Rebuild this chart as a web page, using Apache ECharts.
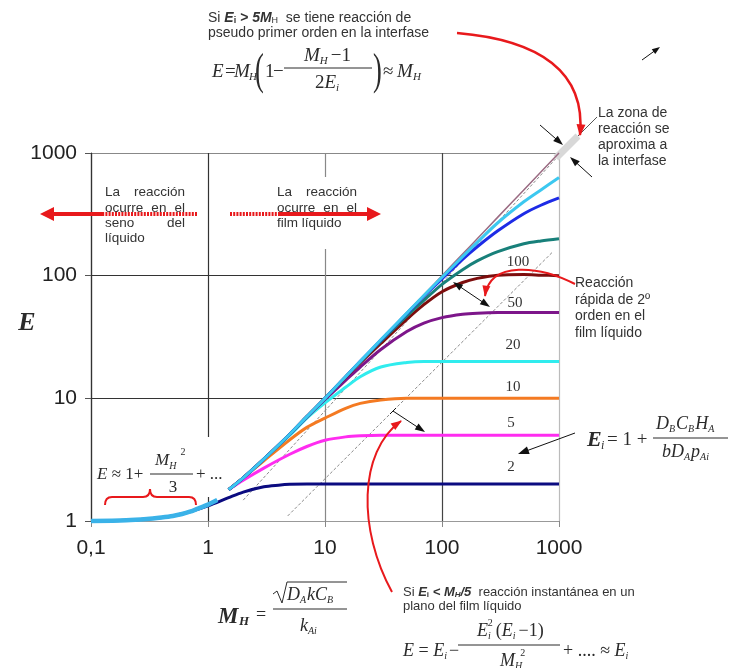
<!DOCTYPE html>
<html>
<head>
<meta charset="utf-8">
<script src="https://cdn.jsdelivr.net/npm/echarts@6/dist/echarts.min.js"></script>
<style>
  html, body { margin: 0; padding: 0; background: #ffffff; }
  #chart { width: 729px; height: 668px; }
</style>
</head>
<body>
<div id="chart"></div>
<script>
// Enhancement factor E versus Hatta number M_H for several values of E_i (log–log)

// Tick labels
const xTickValues = [0.1, 1, 10, 100, 1000];
const xTickLabels = ['0,1', '1', '10', '100', '1000'];
const yTickValues = [1, 10, 100, 1000];
const yTickLabels = ['1', '10', '100', '1000'];

// Slow-reaction branch, E ≈ 1 + M_H²/3
const haSlow = [0.1, 0.2, 0.3, 0.4, 0.5, 0.6, 0.7, 0.8, 1.0, 1.2];
const eSlow  = [1.0, 1.015, 1.04, 1.07, 1.1, 1.14, 1.19, 1.25, 1.36, 1.48];

// E_i = 2
const haEi2 = [0.1, 0.2, 0.3, 0.5, 0.7, 1, 1.5, 2, 3, 4, 5, 7, 10, 100, 1000];
const eEi2  = [1.0, 1.015, 1.04, 1.1, 1.19, 1.33, 1.55, 1.72, 1.9, 1.96, 1.99, 2, 2, 2, 2];

// Fast-reaction branch: common M_H grid
const haFast = [1.5, 2, 3, 5, 7, 10, 15, 20, 30, 50, 70, 100, 150, 200, 300, 500, 700, 1000];
const eEi5    = [1.8, 2.15, 2.7, 3.5, 4.05, 4.55, 4.85, 4.95, 5, 5, 5, 5, 5, 5, 5, 5, 5, 5];
const eEi10   = [1.8, 2.25, 3.1, 4.6, 5.8, 6.9, 8.3, 9.1, 9.7, 10, 10, 10, 10, 10, 10, 10, 10, 10];
const eEi20   = [1.8, 2.25, 3.2, 5.0, 6.9, 9.2, 12.3, 15, 18, 19.6, 20, 20, 20, 20, 20, 20, 20, 20];
const eEi50   = [1.8, 2.25, 3.2, 5.1, 7.05, 9.8, 14, 18, 25, 35, 41, 45.5, 48.5, 49.5, 50, 50, 50, 50];
const eEi100  = [1.8, 2.25, 3.2, 5.1, 7.1, 10, 14.8, 19.4, 28, 44, 58, 74, 88, 95, 101, 102, 101, 100];
const eEi200  = [1.8, 2.25, 3.2, 5.1, 7.1, 10, 15, 19.8, 29.2, 47, 63, 85, 112, 132, 157, 182, 192, 200];
const eEi500  = [1.8, 2.25, 3.2, 5.1, 7.1, 10, 15, 20, 29.8, 49, 68, 94, 136, 172, 232, 320, 375, 430];
const eEi1000 = [1.8, 2.25, 3.2, 5.1, 7.1, 10, 15, 20, 30, 49.5, 69, 97, 143, 187, 270, 400, 500, 630];
const eHatta  = [1.8, 2.25, 3.2, 5.1, 7.1, 10, 15, 20, 30, 50, 70, 100, 150, 200, 300, 500, 700, 1000];

// Guide lines (dotted)
const haGuideFifth = [4.8, 870];
const eGuideFifth  = [1.1, 154];
const haGuideNear  = [2, 1000];
const eGuideNear   = [1.48, 960];

// Plateau labels
const eiLabels = ['100', '50', '20', '10', '5', '2'];

const INK = '#2b2b2b';
const RED = '#e8191c';
const SANS = '"Liberation Sans", Arial, sans-serif';
const SERIF = '"Liberation Serif", "Times New Roman", serif';

const pairs = (xs, ys) => xs.map((x, i) => [x, ys[i]]);

const mctx = document.createElement('canvas').getContext('2d');
function fnt(size, style, weight, fam) {
  return (style || 'normal') + ' ' + (weight || 'normal') + ' ' + size + 'px ' + fam;
}
function measure(t, size, style, weight, fam) {
  mctx.font = fnt(size, style, weight, fam);
  return mctx.measureText(t).width;
}
function T(x, y, text, o) {
  o = o || {};
  const font = fnt(o.size || 14, o.style, o.weight, o.fam || SANS);
  const el = {
    type: 'text', x: x, y: y, z: o.z || 50,
    style: {
      text: text, font: font, fill: o.color || INK,
      align: o.align || 'left', verticalAlign: 'middle',
      textAlign: o.align || 'left', textVerticalAlign: 'middle'
    }
  };
  if (o.scaleX) el.scaleX = o.scaleX;
  return el;
}
// Lay a row of text runs left to right
function row(x, y, runs, base) {
  base = base || {};
  const els = [];
  let cx = x;
  runs.forEach(r => {
    if (r.skip !== undefined && r.t === undefined) { cx += r.skip; return; }
    const size = r.size || base.size || 14;
    const fam = r.fam || base.fam || SANS;
    const style = r.style || base.style;
    const weight = r.weight || base.weight;
    els.push(T(cx, y + (r.dy || 0), r.t, { size, fam, style, weight, color: r.color || base.color }));
    cx += measure(r.t, size, style, weight, fam) + (r.gap || 0);
  });
  return els;
}
function justify(xl, xr, y, words, o) {
  const els = [];
  const n = words.length;
  if (n === 1) return [T(xl, y, words[0], o)];
  const widths = words.map(w => measure(w, o.size, o.style, o.weight, o.fam || SANS));
  const total = widths.reduce((a, b) => a + b, 0);
  const gap = (xr - xl - total) / (n - 1);
  let cx = xl;
  words.forEach((w, i) => { els.push(T(cx, y, w, o)); cx += widths[i] + gap; });
  return els;
}
function line(x1, y1, x2, y2, color, width, dash, z) {
  return { type: 'line', z: z || 60, shape: { x1, y1, x2, y2 },
    style: { stroke: color, lineWidth: width, lineDash: dash || null } };
}
function head(x2, y2, dx, dy, len, w, color) {
  const L = Math.hypot(dx, dy), ux = dx / L, uy = dy / L;
  const bx = x2 - ux * len, by = y2 - uy * len;
  return { type: 'polygon', z: 61,
    shape: { points: [[x2, y2], [bx - uy * w / 2, by + ux * w / 2], [bx + uy * w / 2, by - ux * w / 2]] },
    style: { fill: color } };
}
function arrow(x1, y1, x2, y2, o) {
  const dx = x2 - x1, dy = y2 - y1, L = Math.hypot(dx, dy);
  const len = o.len || 9, w = o.w || 7;
  const ex = x2 - dx / L * len * 0.7, ey = y2 - dy / L * len * 0.7;
  let sx = x1, sy = y1;
  const els = [];
  if (o.both) {
    sx = x1 + dx / L * len * 0.7; sy = y1 + dy / L * len * 0.7;
    els.push(head(x1, y1, -dx, -dy, len, w, o.color));
  }
  els.push(line(sx, sy, ex, ey, o.color, o.width || 1, o.dash));
  els.push(head(x2, y2, dx, dy, len, w, o.color));
  return els;
}
function bez(p0, c1, c2, p3, color, width) {
  const shape = { x1: p0[0], y1: p0[1], cpx1: c1[0], cpy1: c1[1], x2: p3[0], y2: p3[1] };
  if (c2) { shape.cpx2 = c2[0]; shape.cpy2 = c2[1]; }
  return { type: 'bezierCurve', z: 60, shape: shape, style: { stroke: color, lineWidth: width, fill: null } };
}
function curveArrow(p0, c1, c2, p3, o) {
  return [
    bez(p0, c1, c2, p3, o.color, o.width || 2),
    head(p3[0] + (p3[0] - c2[0]) * 0.02, p3[1] + (p3[1] - c2[1]) * 0.02, p3[0] - c2[0], p3[1] - c2[1], o.len || 10, o.w || 8, o.color)
  ];
}
function fracBar(x1, x2, y, w) {
  return line(x1, y, x2, y, INK, w || 1, null, 55);
}

const g = [];

// white patches where the text blocks sit over the grid
g.push({ type: 'rect', z: 1, shape: { x: 268, y: 177, width: 98, height: 72 }, style: { fill: '#ffffff' } });
g.push({ type: 'rect', z: 1, shape: { x: 95, y: 437, width: 130, height: 60 }, style: { fill: '#ffffff' } });

// axis title
g.push(T(27, 323, 'E', { size: 26, fam: SERIF, style: 'italic', weight: 'bold', align: 'center' }));

// top note
g.push(...row(208, 18, [
  { t: 'Si ' },
  { t: 'E', style: 'italic', weight: 'bold' },
  { t: 'i', size: 9, weight: 'bold', dy: 3 },
  { t: ' > 5M', style: 'italic', weight: 'bold' },
  { t: 'H', size: 9, dy: 3 },
  { t: '  se tiene reacción de' }
], { size: 14, color: '#333' }));
g.push(T(208, 33, 'pseudo primer orden en la interfase', { size: 14, color: '#333' }));

// E = M_H (1 - (M_H - 1)/(2 E_i)) ≈ M_H
const F = { size: 19, fam: SERIF };
g.push(T(212, 72, 'E', { size: 19, fam: SERIF, style: 'italic' }));
g.push(T(225, 72, '=', F));
g.push(T(234, 72, 'M', { size: 19, fam: SERIF, style: 'italic' }));
g.push(T(249, 77, 'H', { size: 11, fam: SERIF, style: 'italic' }));
g.push(T(255, 72, '(', { size: 44, fam: SERIF, scaleX: 0.6 }));
g.push(T(265, 72, '1', F));
g.push(T(273, 72, '−', F));
g.push(fracBar(284, 372, 68));
g.push(...row(304, 56, [
  { t: 'M', style: 'italic' }, { t: 'H', size: 11, style: 'italic', dy: 5, gap: 3 }, { t: '−1' }
], F));
g.push(...row(315, 83, [
  { t: '2' }, { t: 'E', style: 'italic' }, { t: 'i', size: 11, style: 'italic', dy: 5 }
], F));
g.push(T(373, 72, ')', { size: 44, fam: SERIF, scaleX: 0.6 }));
g.push(T(383, 72, '≈', F));
g.push(T(397, 72, 'M', { size: 19, fam: SERIF, style: 'italic' }));
g.push(T(413, 77, 'H', { size: 11, fam: SERIF, style: 'italic' }));

// red arrow towards the interface zone
g.push(...curveArrow([457, 33], [540, 40], [586, 72], [580, 135], { color: RED, width: 2.5, len: 12, w: 9 }));
// small black arrow
g.push(...arrow(642, 60, 660, 47, { color: '#111', width: 1, len: 8, w: 6 }));

// interface zone
g.push(line(556, 158, 578, 136, '#d8d8d8', 7, null, 5));
g.push(line(578, 136, 597, 117, '#555', 1, null, 58));
g.push(...arrow(540, 125, 563, 145, { color: '#111', width: 1, len: 10, w: 7 }));
g.push(...arrow(592, 177, 570, 157, { color: '#111', width: 1, len: 10, w: 7 }));
['La zona de', 'reacción se', 'aproxima a', 'la interfase'].forEach((s, i) => {
  g.push(T(598, 113 + i * 16, s, { size: 14, color: '#333' }));
});

// region text blocks
const blk = { size: 13.5, color: '#333' };
g.push(...justify(105, 185, 192, ['La', 'reacción'], blk));
g.push(...justify(105, 185, 208, ['ocurre', 'en', 'el'], blk));
g.push(...justify(105, 185, 223, ['seno', 'del'], blk));
g.push(T(105, 238, 'líquido', blk));
g.push(...justify(277, 357, 192, ['La', 'reacción'], blk));
g.push(...justify(277, 357, 208, ['ocurre', 'en', 'el'], blk));
g.push(T(277, 223, 'film líquido', blk));

// red direction arrows
g.push(line(197, 214, 104, 214, RED, 4, [2, 1.2], 62));
g.push(line(104, 214, 50, 214, RED, 4, null, 62));
g.push(head(40, 214, -1, 0, 14, 14, RED));
g.push(line(230, 214, 278, 214, RED, 4, [2, 1.2], 62));
g.push(line(278, 214, 368, 214, RED, 4, null, 62));
g.push(head(381, 214, 1, 0, 14, 14, RED));

// E ≈ 1 + M_H²/3 + ...
g.push(...row(97, 475, [{ t: 'E', style: 'italic' }, { t: ' ≈ 1+' }], { size: 17, fam: SERIF }));
g.push(...row(155, 461, [
  { t: 'M', style: 'italic' }, { t: 'H', size: 10, style: 'italic', dy: 5 }, { skip: 4 }, { t: '2', size: 10, dy: -9 }
], { size: 17, fam: SERIF }));
g.push(fracBar(150, 193, 474));
g.push(T(173, 488, '3', { size: 17, fam: SERIF, align: 'center' }));
g.push(T(196, 475, '+ ...', { size: 17, fam: SERIF }));
// curly brace under it
g.push(bez([105, 505], [105, 497], null, [112, 497], RED, 2));
g.push(line(112, 497, 143, 497, RED, 2));
g.push(bez([143, 497], [150, 497], null, [150, 489], RED, 2));
g.push(bez([150, 489], [150, 497], null, [157, 497], RED, 2));
g.push(line(157, 497, 189, 497, RED, 2));
g.push(bez([189, 497], [196, 497], null, [196, 505], RED, 2));

// plateau labels
const eiLabelPos = [[518, 262], [515, 303], [513, 345], [513, 387], [511, 423], [511, 467]];
eiLabels.forEach((s, i) => g.push(T(eiLabelPos[i][0], eiLabelPos[i][1], s, { size: 15, fam: SERIF, align: 'center', color: '#333' })));

// arrows inside the plot
g.push(...arrow(453, 282, 490, 307, { color: '#111', width: 1, len: 10, w: 7, both: true }));
g.push(line(390, 414, 396, 408, '#111', 1));
g.push(...arrow(393, 411, 425, 432, { color: '#111', width: 1, len: 10, w: 7 }));
g.push(...arrow(575, 433, 518, 454, { color: '#111', width: 1, len: 11, w: 8 }));

// "Reacción rápida" note
g.push(...curveArrow([575, 284], [540, 266], [490, 260], [485, 296], { color: RED, width: 2, len: 11, w: 8 }));
['Reacción', 'rápida de 2º', 'orden en el', 'film líquido'].forEach((s, i) => {
  g.push(T(575, 283 + i * 16.7, s, { size: 14, color: '#333' }));
});

// E_i = 1 + D_B C_B H_A / (b D_A p_Ai)
g.push(T(587, 440, 'E', { size: 22, fam: SERIF, style: 'italic', weight: 'bold' }));
g.push(T(601, 446, 'i', { size: 12, fam: SERIF, style: 'italic' }));
g.push(...row(607, 440, [{ t: '= 1 + ' }], { size: 19, fam: SERIF }));
g.push(fracBar(653, 728, 438));
g.push(...row(656, 424, [
  { t: 'D', style: 'italic' }, { t: 'B', size: 10, style: 'italic', dy: 5, gap: 1 },
  { t: 'C', style: 'italic' }, { t: 'B', size: 10, style: 'italic', dy: 5, gap: 1 },
  { t: 'H', style: 'italic' }, { t: 'A', size: 10, style: 'italic', dy: 5 }
], { size: 18, fam: SERIF }));
g.push(...row(662, 452, [
  { t: 'bD', style: 'italic' }, { t: 'A', size: 10, style: 'italic', dy: 5, gap: 1 },
  { t: 'p', style: 'italic' }, { t: 'Ai', size: 10, style: 'italic', dy: 5 }
], { size: 18, fam: SERIF }));

// M_H = sqrt(D_A k C_B) / k_Ai
g.push(T(218, 617, 'M', { size: 23, fam: SERIF, style: 'italic', weight: 'bold' }));
g.push(T(239, 622, 'H', { size: 13, fam: SERIF, style: 'italic', weight: 'bold' }));
g.push(T(256, 615, '=', { size: 18, fam: SERIF }));
g.push({ type: 'polyline', z: 60,
  shape: { points: [[273, 594], [277, 591], [282, 603], [287, 582], [347, 582]] },
  style: { stroke: INK, lineWidth: 1, fill: null } });
g.push(...row(287, 595, [
  { t: 'D', style: 'italic' }, { t: 'A', size: 10, style: 'italic', dy: 5, gap: 1 },
  { t: 'kC', style: 'italic' }, { t: 'B', size: 10, style: 'italic', dy: 5 }
], { size: 18, fam: SERIF }));
g.push(fracBar(273, 347, 609));
g.push(...row(300, 626, [
  { t: 'k', style: 'italic' }, { t: 'Ai', size: 10, style: 'italic', dy: 5 }
], { size: 18, fam: SERIF }));

// instantaneous-reaction note
g.push(...curveArrow([392, 592], [358, 530], [358, 452], [401, 421], { color: RED, width: 2, len: 11, w: 8 }));
g.push(...row(403, 592, [
  { t: 'Si ' },
  { t: 'E', style: 'italic', weight: 'bold' },
  { t: 'i', size: 8, weight: 'bold', dy: 3 },
  { t: ' < M', style: 'italic', weight: 'bold' },
  { t: 'H', size: 8, style: 'italic', weight: 'bold', dy: 3 },
  { t: '/5', style: 'italic', weight: 'bold' },
  { t: '  reacción instantánea en un' }
], { size: 13, color: '#333' }));
g.push(T(403, 606, 'plano del film líquido', { size: 13, color: '#333' }));

// E = E_i - E_i²(E_i - 1)/M_H² + ... ≈ E_i
g.push(...row(403, 651, [
  { t: 'E', style: 'italic' }, { t: ' = ' }, { t: 'E', style: 'italic' },
  { t: 'i', size: 10, style: 'italic', dy: 5, gap: 2 }, { t: '−' }
], { size: 18, fam: SERIF }));
g.push(fracBar(458, 560, 645));
g.push(...row(477, 631, [
  { t: 'E', style: 'italic' }, { t: 'i', size: 10, style: 'italic', dy: 5 }, { skip: -3 },
  { t: '2', size: 10, dy: -8, gap: 3 }, { t: '(' }, { t: 'E', style: 'italic' },
  { t: 'i', size: 10, style: 'italic', dy: 5, gap: 3 }, { t: '−1)' }
], { size: 18, fam: SERIF }));
g.push(...row(500, 661, [
  { t: 'M', style: 'italic' }, { t: 'H', size: 10, style: 'italic', dy: 5 }, { skip: -2 },
  { t: '2', size: 10, dy: -8 }
], { size: 18, fam: SERIF }));
g.push(...row(563, 651, [
  { t: '+ .... ≈ ' }, { t: 'E', style: 'italic' }, { t: 'i', size: 10, style: 'italic', dy: 5 }
], { size: 18, fam: SERIF }));

function curve(name, xs, ys, color, width, z, extra) {
  return Object.assign({
    name: name, type: 'line', data: pairs(xs, ys), showSymbol: false, symbol: 'none',
    smooth: 0.3, clip: false, z: z,
    lineStyle: { color: color, width: width }, emphasis: { disabled: true }
  }, extra || {});
}

const option = {
  animation: false,
  backgroundColor: '#ffffff',
  grid: { left: 91, right: 170, top: 153, bottom: 147, containLabel: false },
  xAxis: {
    type: 'log', logBase: 10, min: 0.1, max: 1000,
    axisLine: { show: true, onZero: false, lineStyle: { color: '#999', width: 1.2 } },
    axisTick: { show: true, length: 6, lineStyle: { color: '#888' } },
    axisLabel: {
      margin: 17, fontSize: 21, fontFamily: SANS, color: '#222',
      formatter: v => { const i = xTickValues.findIndex(t => Math.abs(Math.log10(t) - Math.log10(v)) < 1e-6); return i >= 0 ? xTickLabels[i] : ''; }
    },
    splitLine: { show: true, lineStyle: { color: ['#333', '#333', '#888', '#444', '#bbb'], width: 1.2 } }
  },
  yAxis: {
    type: 'log', logBase: 10, min: 1, max: 1000,
    axisLine: { show: true, onZero: false, lineStyle: { color: '#333', width: 1.2 } },
    axisTick: { show: true, length: 6, lineStyle: { color: '#555' } },
    axisLabel: {
      margin: 14, fontSize: 21, fontFamily: SANS, color: '#222',
      formatter: v => { const i = yTickValues.findIndex(t => Math.abs(Math.log10(t) - Math.log10(v)) < 1e-6); return i >= 0 ? yTickLabels[i] : ''; }
    },
    splitLine: { show: true, lineStyle: { color: ['#999', '#333', '#333', '#888'], width: 1.2 } }
  },
  series: [
    curve('M_H/5', haGuideFifth, eGuideFifth, '#8a8a8a', 1, 3, { smooth: false, lineStyle: { color: '#8a8a8a', width: 1, type: [3, 2] } }),
    curve('guía', haGuideNear, eGuideNear, '#8a8a8a', 1, 3, { smooth: false, lineStyle: { color: '#8a8a8a', width: 1, type: [3, 2] } }),
    curve('Ei=2', haEi2, eEi2, '#0b0b80', 3, 10),
    curve('Ei=5', haFast, eEi5, '#ff2cf0', 3, 11),
    curve('Ei=10', haFast, eEi10, '#f47a22', 3, 12),
    curve('Ei=20', haFast, eEi20, '#30ecee', 3, 13),
    curve('Ei=50', haFast, eEi50, '#7d168a', 3, 14),
    curve('Ei=100', haFast, eEi100, '#7d0d0d', 3, 15),
    curve('Ei=200', haFast, eEi200, '#18807a', 3, 16),
    curve('Ei=500', haFast, eEi500, '#1d2be6', 3, 17),
    curve('E=MH', haFast, eHatta, '#9a6a82', 1.5, 18),
    curve('Ei=1000', haFast, eEi1000, '#3cc8f0', 3, 19),
    curve('lenta', haSlow, eSlow, '#3ab2e8', 4.5, 20)
  ],
  graphic: { elements: g }
};

const chart = echarts.init(document.getElementById('chart'));
chart.setOption(option);
</script>
</body>
</html>
